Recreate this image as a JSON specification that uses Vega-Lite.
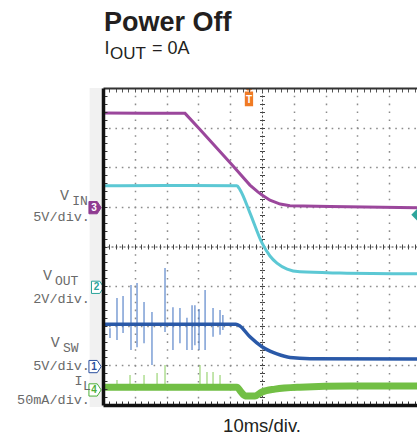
{
  "$schema": "https://vega.github.io/schema/vega-lite/v6.json",
  "width": 314,
  "height": 317,
  "autosize": "none",
  "padding": {"left": 103, "top": 88, "right": 0, "bottom": 33},
  "background": "#ffffff",
  "config": {"view": {"stroke": null}},
  "datasets": {
    "vin": [{"x":0,"y":7.37},{"x":1.3,"y":7.36},{"x":2.58,"y":7.36},{"x":3.05,"y":6.95},{"x":4.09,"y":6.03},{"x":4.62,"y":5.55},{"x":4.87,"y":5.38},{"x":5.0,"y":5.3},{"x":5.25,"y":5.17},{"x":5.57,"y":5.07},{"x":5.88,"y":5.03},{"x":7.14,"y":5.01},{"x":9.874,"y":4.98}],
    "vout": [{"x":0,"y":5.53},{"x":2,"y":5.54},{"x":4.21,"y":5.53},{"x":4.31,"y":5.43},{"x":4.62,"y":4.85},{"x":5.0,"y":4.09},{"x":5.25,"y":3.76},{"x":5.47,"y":3.58},{"x":5.79,"y":3.43},{"x":6.19,"y":3.36},{"x":7.45,"y":3.33},{"x":9.874,"y":3.31}],
    "vsw": [{"x":0,"y":2.04},{"x":4.18,"y":2.04},{"x":4.31,"y":1.99},{"x":4.62,"y":1.72},{"x":5.0,"y":1.47},{"x":5.25,"y":1.36},{"x":5.47,"y":1.29},{"x":5.88,"y":1.2},{"x":6.51,"y":1.17},{"x":9.874,"y":1.16}],
    "il": [{"x":0,"y":0.45},{"x":4.21,"y":0.45},{"x":4.34,"y":0.33},{"x":4.47,"y":0.23},{"x":4.78,"y":0.23},{"x":5.0,"y":0.33},{"x":5.41,"y":0.4},{"x":6.19,"y":0.45},{"x":7.77,"y":0.48},{"x":9.874,"y":0.48}],
    "swspikes": [{"x":0.22,"y":1.94,"y2":1.69},{"x":0.44,"y":2.7,"y2":1.64},{"x":0.63,"y":2.75,"y2":1.82},{"x":0.88,"y":3.03,"y2":1.39},{"x":1.07,"y":3.08,"y2":1.46},{"x":1.29,"y":2.6,"y2":1.56},{"x":1.54,"y":2.35,"y2":1.01},{"x":1.95,"y":3.46,"y2":1.84},{"x":2.2,"y":2.47,"y2":1.39},{"x":2.42,"y":2.45,"y2":1.56},{"x":2.64,"y":2.2,"y2":1.39},{"x":2.8,"y":2.52,"y2":1.39},{"x":2.89,"y":2.52,"y2":1.51},{"x":3.02,"y":2.42,"y2":1.39},{"x":3.21,"y":2.9,"y2":1.39},{"x":3.46,"y":2.45,"y2":1.72},{"x":3.68,"y":2.4,"y2":1.77},{"x":3.77,"y":2.27,"y2":1.89}],
    "ilspikes": [{"x":0.44,"y":0.63,"y2":0.45},{"x":0.85,"y":0.76,"y2":0.45},{"x":1.29,"y":0.76,"y2":0.45},{"x":1.7,"y":0.81,"y2":0.45},{"x":1.95,"y":1.01,"y2":0.45},{"x":3.05,"y":1.01,"y2":0.45},{"x":3.27,"y":0.83,"y2":0.45},{"x":3.46,"y":0.83,"y2":0.45},{"x":3.68,"y":0.76,"y2":0.45}],
    "margin": [{"x":-0.42,"x2":0,"y":8,"y2":-0.05}],
    "title": [{"x":0.03,"y":9.45,"label":"Power Off"}],
    "sub": [{"x":0.05,"y":8.86,"label":"I"},{"x":1.54,"y":8.86,"label":"= 0A"}],
    "subsub": [{"x":0.22,"y":8.72,"label":"OUT"}],
    "xlab": [{"x":5.0,"y":-0.68,"label":"10ms/div."}],
    "chv": [{"x":-1.35,"y":5.17,"label":"V"},{"x":-1.89,"y":3.15,"label":"V"},{"x":-1.64,"y":1.47,"label":"V"}],
    "chi": [{"x":-0.9,"y":0.5,"label":"I"}],
    "chsub": [{"x":-0.97,"y":5.05,"label":"IN"},{"x":-1.51,"y":3.03,"label":"OUT"},{"x":-1.26,"y":1.35,"label":"SW"},{"x":-0.63,"y":0.37,"label":"L"}],
    "chdiv": [{"x":-0.41,"y":4.64,"label":"5V/div."},{"x":-0.41,"y":2.57,"label":"2V/div."},{"x":-0.41,"y":0.89,"label":"5V/div."},{"x":-0.41,"y":0.03,"label":"50mA/div."}],
    "markers": [{"x":-0.25,"y":4.98,"ch":"3"},{"x":-0.17,"y":2.97,"ch":"2"},{"x":-0.25,"y":0.97,"ch":"1"},{"x":-0.25,"y":0.38,"ch":"4"}],
    "trig": [{"x":4.59,"y":7.77,"label":"T"}],
    "level": [{"x":9.874,"y":4.8}]
  },
  "resolve": {"axis": {"x": "independent", "y": "independent"}},
  "encoding": {
    "x": {"field": "x", "type": "quantitative", "scale": {"domain": [0, 9.874], "nice": false, "zero": false}, "axis": null},
    "y": {"field": "y", "type": "quantitative", "scale": {"domain": [0, 8], "nice": false, "zero": false}, "axis": null}
  },
  "layer": [
    {
      "data": {"name": "margin"},
      "mark": {"type": "rect", "color": "#f1f1f1"},
      "encoding": {"x2": {"field": "x2"}, "y2": {"field": "y2"}}
    },
    {
      "data": {"name": "vin"},
      "mark": {"type": "line", "color": "#9b479c", "strokeWidth": 3},
      "encoding": {
        "x": {"field": "x", "type": "quantitative", "scale": {"domain": [0, 9.874], "nice": false, "zero": false},
          "axis": {"orient": "bottom", "values": [1,2,3,4,6,7,8,9], "grid": true, "gridDash": [1.6, 6.325], "gridDashOffset": 0.8, "gridColor": "#8c8c8c", "gridWidth": 1.5, "ticks": false, "labels": false, "domain": false, "title": null, "zindex": 0}},
        "y": {"field": "y", "type": "quantitative", "scale": {"domain": [0, 8], "nice": false, "zero": false},
          "axis": {"orient": "left", "values": [1,2,3,5,6,7], "grid": true, "gridDash": [1.6, 4.76], "gridDashOffset": 0.8, "gridColor": "#8c8c8c", "gridWidth": 1.5, "ticks": false, "labels": false, "domain": false, "title": null, "zindex": 0}}
      }
    },
    {
      "data": {"name": "vout"},
      "mark": {"type": "line", "color": "#5cc8d4", "strokeWidth": 3, "interpolate": "monotone"},
      "encoding": {
        "x": {"field": "x", "type": "quantitative", "scale": {"domain": [0, 9.874], "nice": false, "zero": false},
          "axis": {"orient": "bottom", "values": [0.2,0.4,0.6,0.8,1,1.2,1.4,1.6,1.8,2,2.2,2.4,2.6,2.8,3,3.2,3.4,3.6,3.8,4,4.2,4.4,4.6,4.8,5,5.2,5.4,5.6,5.8,6,6.2,6.4,6.6,6.8,7,7.2,7.4,7.6,7.8,8,8.2,8.4,8.6,8.8,9,9.2,9.4,9.6,9.8], "domain": true, "domainColor": "#111111", "domainWidth": 3.5, "ticks": true, "tickSize": -4, "tickColor": "#333333", "tickWidth": 1, "labels": false, "grid": false, "title": null, "zindex": 1}},
        "y": {"field": "y", "type": "quantitative", "scale": {"domain": [0, 8], "nice": false, "zero": false},
          "axis": {"orient": "left", "values": [0.2,0.4,0.6,0.8,1,1.2,1.4,1.6,1.8,2,2.2,2.4,2.6,2.8,3,3.2,3.4,3.6,3.8,4,4.2,4.4,4.6,4.8,5,5.2,5.4,5.6,5.8,6,6.2,6.4,6.6,6.8,7,7.2,7.4,7.6,7.8], "domain": true, "domainColor": "#111111", "domainWidth": 3.5, "ticks": true, "tickSize": -4, "tickColor": "#333333", "tickWidth": 1, "labels": false, "grid": false, "title": null, "zindex": 1}}
      }
    },
    {
      "data": {"name": "swspikes"},
      "mark": {"type": "rule", "color": "#4d7bc6", "strokeWidth": 1.3, "opacity": 0.85},
      "encoding": {
        "y2": {"field": "y2"},
        "x": {"field": "x", "type": "quantitative", "scale": {"domain": [0, 9.874], "nice": false, "zero": false},
          "axis": {"orient": "top", "offset": -158.5, "values": [0.2,0.4,0.6,0.8,1,1.2,1.4,1.6,1.8,2,2.2,2.4,2.6,2.8,3,3.2,3.4,3.6,3.8,4,4.2,4.4,4.6,4.8,5.2,5.4,5.6,5.8,6,6.2,6.4,6.6,6.8,7,7.2,7.4,7.6,7.8,8,8.2,8.4,8.6,8.8,9,9.2,9.4,9.6,9.8], "domain": false, "ticks": true, "tickSize": 2.5, "tickColor": "#444444", "tickWidth": 1, "labels": false, "grid": false, "title": null, "zindex": 0}}
      }
    },
    {
      "data": {"name": "vsw"},
      "mark": {"type": "line", "color": "#2a59a8", "strokeWidth": 3.5, "interpolate": "monotone"},
      "encoding": {
        "x": {"field": "x", "type": "quantitative", "scale": {"domain": [0, 9.874], "nice": false, "zero": false},
          "axis": {"orient": "top", "values": [0.2,0.4,0.6,0.8,1,1.2,1.4,1.6,1.8,2,2.2,2.4,2.6,2.8,3,3.2,3.4,3.6,3.8,4,4.2,4.4,4.6,4.8,5,5.2,5.4,5.6,5.8,6,6.2,6.4,6.6,6.8,7,7.2,7.4,7.6,7.8,8,8.2,8.4,8.6,8.8,9,9.2,9.4,9.6,9.8], "domain": true, "domainColor": "#333333", "domainWidth": 2, "ticks": true, "tickSize": -4, "tickColor": "#555555", "tickWidth": 1, "labels": false, "grid": false, "title": null, "zindex": 1}},
        "y": {"field": "y", "type": "quantitative", "scale": {"domain": [0, 8], "nice": false, "zero": false},
          "axis": {"orient": "left", "offset": -159, "values": [0.2,0.4,0.6,0.8,1,1.2,1.4,1.6,1.8,2,2.2,2.4,2.6,2.8,3,3.2,3.4,3.6,3.8,4.2,4.4,4.6,4.8,5,5.2,5.4,5.6,5.8,6,6.2,6.4,6.6,6.8,7,7.2,7.4,7.6,7.8], "domain": true, "domainDash": [2, 2], "domainColor": "#444444", "domainWidth": 1, "ticks": true, "tickSize": 2.5, "tickColor": "#444444", "tickWidth": 1, "labels": false, "grid": false, "title": null, "zindex": 0}}
      }
    },
    {
      "data": {"name": "ilspikes"},
      "mark": {"type": "rule", "color": "#8fcf66", "strokeWidth": 1.2, "opacity": 0.9},
      "encoding": {"y2": {"field": "y2"}}
    },
    {
      "data": {"name": "il"},
      "mark": {"type": "line", "color": "#72bf45", "strokeWidth": 7, "interpolate": "monotone"},
      "encoding": {
        "x": {"field": "x", "type": "quantitative", "scale": {"domain": [0, 9.874], "nice": false, "zero": false},
          "axis": {"orient": "bottom", "offset": -158.5, "values": [0.2,0.4,0.6,0.8,1,1.2,1.4,1.6,1.8,2,2.2,2.4,2.6,2.8,3,3.2,3.4,3.6,3.8,4,4.2,4.4,4.6,4.8,5.2,5.4,5.6,5.8,6,6.2,6.4,6.6,6.8,7,7.2,7.4,7.6,7.8,8,8.2,8.4,8.6,8.8,9,9.2,9.4,9.6,9.8], "domain": true, "domainDash": [2, 2], "domainColor": "#444444", "domainWidth": 1, "ticks": true, "tickSize": 2.5, "tickColor": "#444444", "tickWidth": 1, "labels": false, "grid": false, "title": null, "zindex": 0}},
        "y": {"field": "y", "type": "quantitative", "scale": {"domain": [0, 8], "nice": false, "zero": false},
          "axis": {"orient": "right", "offset": -155, "values": [0.2,0.4,0.6,0.8,1,1.2,1.4,1.6,1.8,2,2.2,2.4,2.6,2.8,3,3.2,3.4,3.6,3.8,4.2,4.4,4.6,4.8,5,5.2,5.4,5.6,5.8,6,6.2,6.4,6.6,6.8,7,7.2,7.4,7.6,7.8], "domain": false, "ticks": true, "tickSize": 2.5, "tickColor": "#444444", "tickWidth": 1, "labels": false, "grid": false, "title": null, "zindex": 0}}
      }
    },
    {
      "data": {"name": "markers"},
      "mark": {"type": "point", "filled": true, "shape": "M-1,-1L0.35,-1L1,0L0.35,1L-1,1Z", "size": 150, "strokeWidth": 1, "opacity": 1},
      "encoding": {
        "fill": {"field": "ch", "type": "nominal", "scale": {"domain": ["1","2","3","4"], "range": ["#ffffff","#ffffff","#8e3b91","#ffffff"]}, "legend": null},
        "stroke": {"field": "ch", "type": "nominal", "scale": {"domain": ["1","2","3","4"], "range": ["#2a4f9e","#2aa39a","#8e3b91","#4caf3a"]}, "legend": null}
      }
    },
    {
      "data": {"name": "markers"},
      "mark": {"type": "text", "font": "Liberation Sans", "fontSize": 10, "fontWeight": "bold", "baseline": "middle", "align": "center", "dx": -1},
      "encoding": {
        "text": {"field": "ch"},
        "color": {"field": "ch", "type": "nominal", "scale": {"domain": ["1","2","3","4"], "range": ["#2a4f9e","#2aa39a","#ffffff","#4caf3a"]}, "legend": null}
      }
    },
    {
      "data": {"name": "trig"},
      "mark": {"type": "point", "filled": true, "shape": "M-0.45,-1L0.45,-1L0.2,-0.72L-0.2,-0.72ZM-0.45,-0.62L0.45,-0.62L0.45,1L-0.45,1Z", "size": 340, "color": "#f07a24", "opacity": 1}
    },
    {
      "data": {"name": "trig"},
      "mark": {"type": "text", "font": "Liberation Sans", "fontSize": 10, "fontWeight": "bold", "color": "#ffffff", "baseline": "middle", "align": "center", "dy": 3},
      "encoding": {"text": {"field": "label"}}
    },
    {
      "data": {"name": "level"},
      "mark": {"type": "point", "filled": true, "shape": "diamond", "size": 130, "color": "#2ea59c", "opacity": 1}
    },
    {
      "data": {"name": "title"},
      "mark": {"type": "text", "font": "Liberation Sans", "fontSize": 27, "fontWeight": "bold", "color": "#231f20", "align": "left", "baseline": "alphabetic"},
      "encoding": {"text": {"field": "label"}}
    },
    {
      "data": {"name": "sub"},
      "mark": {"type": "text", "font": "Liberation Sans", "fontSize": 18, "color": "#231f20", "align": "left", "baseline": "alphabetic"},
      "encoding": {"text": {"field": "label"}}
    },
    {
      "data": {"name": "subsub"},
      "mark": {"type": "text", "font": "Liberation Sans", "fontSize": 17, "color": "#231f20", "align": "left", "baseline": "alphabetic"},
      "encoding": {"text": {"field": "label"}}
    },
    {
      "data": {"name": "xlab"},
      "mark": {"type": "text", "font": "Liberation Sans", "fontSize": 18.5, "color": "#231f20", "align": "center", "baseline": "alphabetic"},
      "encoding": {"text": {"field": "label"}}
    },
    {
      "data": {"name": "chv"},
      "mark": {"type": "text", "font": "Liberation Mono", "fontSize": 15, "color": "#6a6a6a", "align": "left", "baseline": "alphabetic"},
      "encoding": {"text": {"field": "label"}}
    },
    {
      "data": {"name": "chi"},
      "mark": {"type": "text", "font": "Liberation Mono", "fontSize": 13.5, "color": "#6a6a6a", "align": "left", "baseline": "alphabetic"},
      "encoding": {"text": {"field": "label"}}
    },
    {
      "data": {"name": "chsub"},
      "mark": {"type": "text", "font": "Liberation Mono", "fontSize": 13, "color": "#6a6a6a", "align": "left", "baseline": "alphabetic"},
      "encoding": {"text": {"field": "label"}}
    },
    {
      "data": {"name": "chdiv"},
      "mark": {"type": "text", "font": "Liberation Mono", "fontSize": 13.5, "color": "#6a6a6a", "align": "right", "baseline": "alphabetic"},
      "encoding": {"text": {"field": "label"}}
    }
  ]
}
